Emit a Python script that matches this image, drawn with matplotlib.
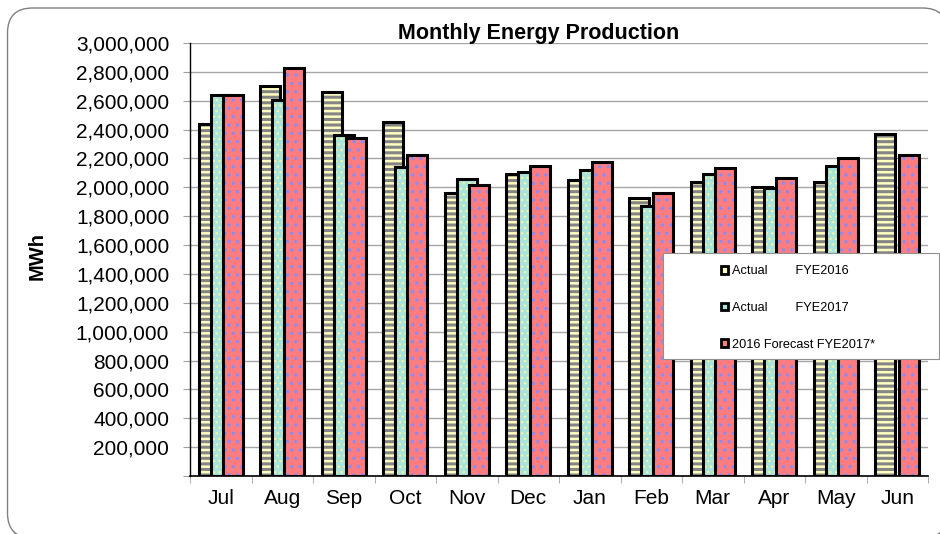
import numpy as np
import matplotlib
matplotlib.use("Agg")
import matplotlib.pyplot as plt
import matplotlib.patches as mpatches
from matplotlib.transforms import IdentityTransform
from matplotlib.ticker import FuncFormatter, MultipleLocator

plt.rcParams['font.family'] = ['Liberation Sans', 'DejaVu Sans']

# --- data (MWh) ---
months = ["Jul", "Aug", "Sep", "Oct", "Nov", "Dec",
          "Jan", "Feb", "Mar", "Apr", "May", "Jun"]
actual_fye2016 = [2440000, 2700000, 2660000, 2450000, 1960000, 2095000,
                  2050000, 1925000, 2040000, 2005000, 2035000, 2370000]
actual_fye2017 = [2640000, 2605000, 2360000, 2140000, 2055000, 2103000,
                  2122000, 1873000, 2094000, 1995000, 2145000, np.nan]
forecast_fye2017 = [2637000, 2824000, 2344000, 2221000, 2018000, 2145000,
                    2174000, 1960000, 2136000, 2068000, 2204000, 2225000]
labels = ["Actual        FYE2016", "Actual        FYE2017",
          "2016 Forecast FYE2017*"]

faces = ["#FFFFC0", "#A8E4DA", "#FF7C80"]
hatch_cols = ["#858585", "#F4F4A8", "#8C8CF0"]
hatches = ["---", "...", ".."]
hatch_lws = [2.2, 1.0, 1.3]

fig = plt.figure(figsize=(9.4, 5.34), dpi=100)
fig.patch.set_facecolor("white")

# rounded outer frame (pixel coords), kept behind the axes
shadow = mpatches.FancyBboxPatch((9.5, -6), 940, 530, boxstyle="round,pad=0,rounding_size=25",
                                 transform=IdentityTransform(), facecolor="#404040",
                                 edgecolor="#404040", lw=1, zorder=-2)
frame = mpatches.FancyBboxPatch((7.5, -4), 940, 530, boxstyle="round,pad=0,rounding_size=25",
                                transform=IdentityTransform(), facecolor="white",
                                edgecolor="#808080", lw=1, zorder=-1)
fig.patches.extend([shadow, frame])

ax = fig.add_axes([190 / 940, 58 / 534, 738 / 940, 433 / 534])
ax.patch.set_alpha(0)

x = np.arange(len(months))
width = 0.32
offsets = [-0.195, 0.0, 0.195]
series = [actual_fye2016, actual_fye2017, forecast_fye2017]

for i, vals in enumerate(series):
    with plt.rc_context({'hatch.linewidth': hatch_lws[i]}):
        bars = ax.bar(x + offsets[i], vals, width, color=faces[i], edgecolor=hatch_cols[i],
                      hatch=hatches[i], linewidth=0, zorder=3 + i)
    for b in bars:
        if hasattr(b, "set_hatch_linewidth"):
            b.set_hatch_linewidth(hatch_lws[i])
    ax.bar(x + offsets[i], vals, width, fill=False, edgecolor="black",
           linewidth=2.2, zorder=3 + i)

ax.set_xlim(-0.5, 11.5)
ax.set_ylim(0, 3000000)
ax.yaxis.set_major_locator(MultipleLocator(200000))
ax.yaxis.set_major_formatter(FuncFormatter(lambda v, p: "" if v == 0 else f"{int(v):,}"))
ax.yaxis.grid(True, color="#a6a6a6", linewidth=1.0, zorder=0)
ax.set_axisbelow(True)

ax.set_xticks(x)
ax.set_xticklabels(months)
ax.set_xticks(np.arange(-0.5, 12, 1), minor=True)
ax.tick_params(axis="x", which="major", length=0, pad=9, labelsize=15)
ax.tick_params(axis="x", which="minor", length=5, color="#a0a0a0", direction="out")
ax.tick_params(axis="y", length=5, color="#a0a0a0", pad=10, labelsize=15)

for s in ["top", "right"]:
    ax.spines[s].set_visible(False)
ax.spines["left"].set_linewidth(1.0)
ax.spines["bottom"].set_linewidth(1.2)

ax.set_ylabel("MWh", fontsize=14.5, fontweight="bold")
ax.yaxis.set_label_coords(-143 / 738, (476 - 256) / 433)

fig.text(538.5 / 940, 1 - 34 / 534, "Monthly Energy Production",
         fontsize=15.5, fontweight="bold", ha="center", va="center")

# legend box
box = mpatches.Rectangle(((663 - 190) / 738, (476 - 359) / 433), (939 - 663) / 738, 106 / 433,
                         transform=ax.transAxes, facecolor="white", edgecolor="#909090",
                         lw=0.8, clip_on=False, zorder=10)
ax.add_patch(box)
handles = [mpatches.Patch(facecolor=faces[i], edgecolor="black", linewidth=2) for i in range(3)]
leg = ax.legend(handles, labels, loc="center left",
                bbox_to_anchor=((715 - 190) / 738, (476 - 308) / 433),
                frameon=False, fontsize=9.2, borderpad=0, handlelength=0.55,
                handleheight=0.55, handletextpad=0.25, labelspacing=1.93)
leg.set_zorder(11)

fig.savefig("out.png", dpi=100)
